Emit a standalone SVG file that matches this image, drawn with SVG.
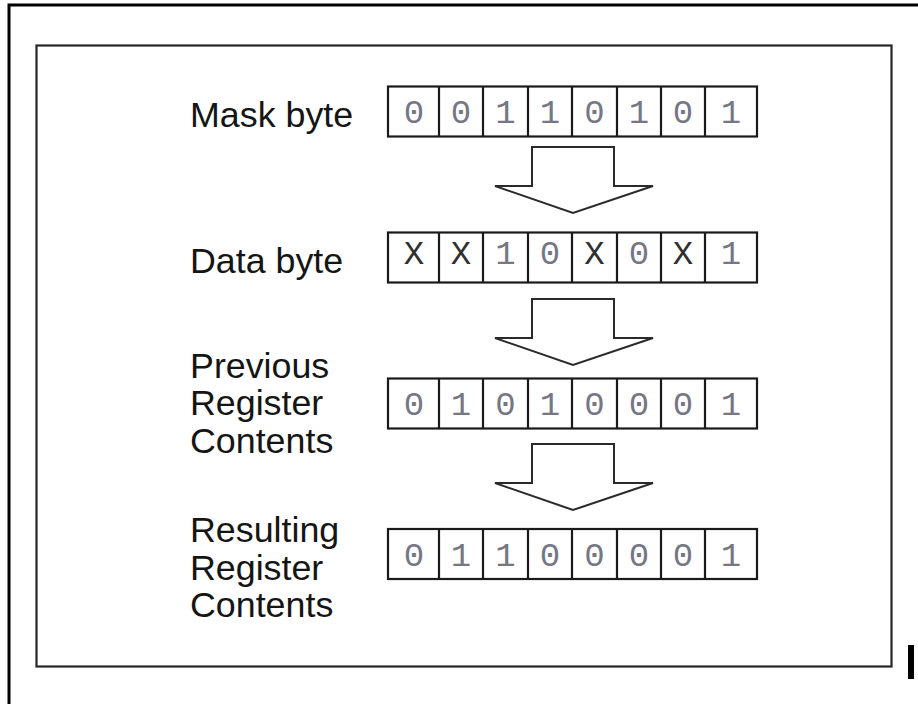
<svg xmlns="http://www.w3.org/2000/svg" width="918" height="704" viewBox="0 0 918 704">
  <style>
    .label { font-family: "Liberation Sans", Arial, sans-serif; font-size: 35.8px; fill: #151515; }
    .bit { font-family: "Liberation Mono", "Courier New", monospace; font-size: 34px; fill: #767684; text-anchor: middle; }
    .bitx { fill: #303030; }
    .cell { fill: #ffffff; stroke: #1a1a1a; stroke-width: 2.2; }
    .arrow { fill: #ffffff; stroke: #2a2a2a; stroke-width: 2; stroke-linejoin: miter; }
  </style>
  <defs>
    <!-- one 8-bit register: cell dividers shared by all rows -->
    <g id="register">
      <rect class="cell" x="388" y="0" width="369" height="50"/>
      <path d="M439 0V50M483 0V50M528 0V50M572 0V50M617 0V50M661 0V50M705 0V50" stroke="#1a1a1a" stroke-width="2.2" fill="none"/>
    </g>
    <!-- hollow down arrow, origin at top of stem -->
    <polygon id="downArrow" class="arrow" points="532,0 614,0 614,39 653,39 573,66 495,39 532,39"/>
  </defs>

  <rect width="918" height="704" fill="#ffffff"/>

  <!-- outer page frame -->
  <path d="M9 704V5H918" fill="none" stroke="#000" stroke-width="3"/>
  <rect x="908" y="645" width="6" height="34" fill="#000"/>

  <!-- inner figure frame -->
  <rect x="36.5" y="45.5" width="855" height="621" fill="none" stroke="#262626" stroke-width="2.2"/>

  <!-- mask byte -->
  <g id="mask-byte">
    <text class="label" x="190" y="127">Mask byte</text>
    <use href="#register" y="86.5"/>
    <g class="bit">
      <text x="414" y="123">0</text><text x="461" y="123">0</text><text x="505.5" y="123">1</text><text x="550" y="123">1</text>
      <text x="594.5" y="123">0</text><text x="639" y="123">1</text><text x="683" y="123">0</text><text x="731" y="123">1</text>
    </g>
  </g>

  <!-- data byte -->
  <g id="data-byte">
    <text class="label" x="190" y="273">Data byte</text>
    <use href="#register" y="232.5"/>
    <g class="bit">
      <text class="bitx" x="414" y="264">X</text><text class="bitx" x="461" y="264">X</text><text x="505.5" y="264">1</text><text x="550" y="264">0</text>
      <text class="bitx" x="594.5" y="264">X</text><text x="639" y="264">0</text><text class="bitx" x="683" y="264">X</text><text x="731" y="264">1</text>
    </g>
  </g>

  <!-- previous register contents -->
  <g id="previous-register">
    <text class="label" x="190" y="378">Previous</text>
    <text class="label" x="190" y="415">Register</text>
    <text class="label" x="190" y="453">Contents</text>
    <use href="#register" y="378.5"/>
    <g class="bit">
      <text x="414" y="415">0</text><text x="461" y="415">1</text><text x="505.5" y="415">0</text><text x="550" y="415">1</text>
      <text x="594.5" y="415">0</text><text x="639" y="415">0</text><text x="683" y="415">0</text><text x="731" y="415">1</text>
    </g>
  </g>

  <!-- resulting register contents -->
  <g id="resulting-register">
    <text class="label" x="190" y="542">Resulting</text>
    <text class="label" x="190" y="580">Register</text>
    <text class="label" x="190" y="617">Contents</text>
    <use href="#register" y="529"/>
    <g class="bit">
      <text x="414" y="566">0</text><text x="461" y="566">1</text><text x="505.5" y="566">1</text><text x="550" y="566">0</text>
      <text x="594.5" y="566">0</text><text x="639" y="566">0</text><text x="683" y="566">0</text><text x="731" y="566">1</text>
    </g>
  </g>

  <!-- flow arrows between registers -->
  <g id="connectors">
    <use href="#downArrow" y="147"/>
    <use href="#downArrow" y="299"/>
    <use href="#downArrow" y="444"/>
  </g>
</svg>
